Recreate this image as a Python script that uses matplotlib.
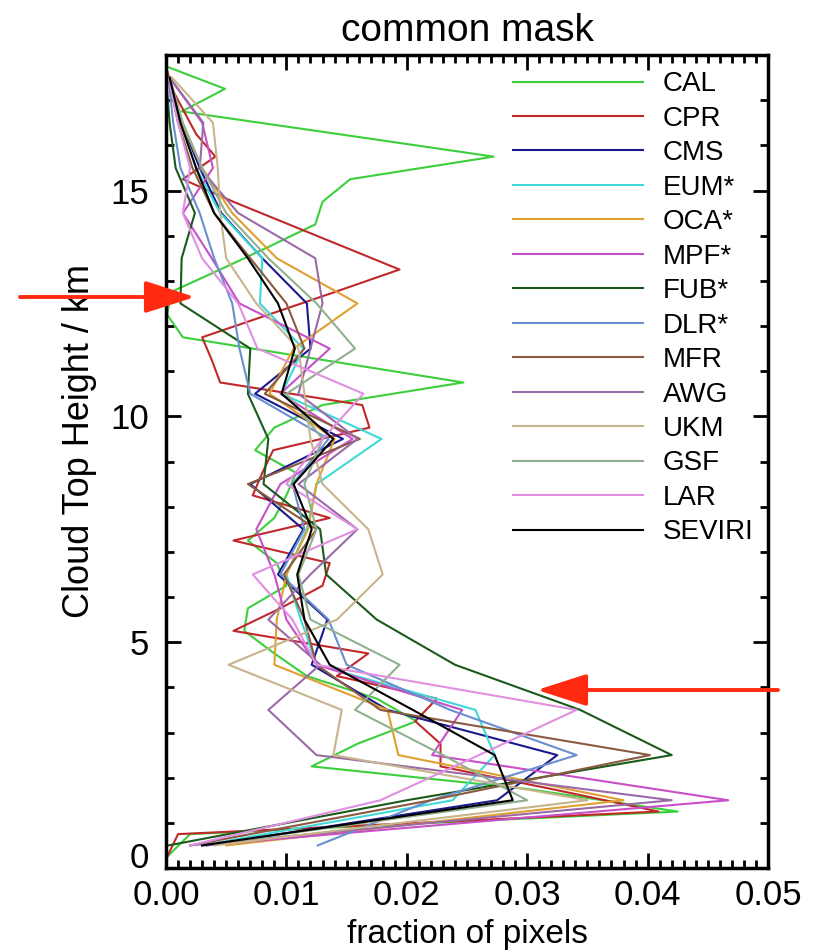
import matplotlib
matplotlib.use("Agg")
import matplotlib.pyplot as plt
from matplotlib.ticker import MultipleLocator, FormatStrFormatter

plt.rcParams['font.family'] = ['Liberation Sans', 'DejaVu Sans']

# bin centres (km)
h_fine = [0.25, 0.75, 1.25, 1.75, 2.25, 2.75, 3.25, 3.75, 4.25, 4.75, 5.25, 5.75,
          6.25, 6.75, 7.25, 7.75, 8.25, 8.75, 9.25, 9.75, 10.25, 10.75, 11.25, 11.75,
          12.25, 12.75, 13.25, 13.75, 14.25, 14.75, 15.25, 15.75, 16.25, 16.75, 17.25, 17.75]
h_coarse = [0.5, 1.5, 2.5, 3.5, 4.5, 5.5, 6.5, 7.5, 8.5, 9.5, 10.5, 11.5,
            12.5, 13.5, 14.5, 15.5, 16.5, 17.5]

CAL = [0.0001, 0.0020, 0.0425, 0.0300, 0.0121, 0.0159, 0.0208, 0.0175, 0.0117, 0.0090, 0.0065, 0.0068,
       0.0100, 0.0092, 0.0068, 0.0090, 0.0100, 0.0108, 0.0074, 0.0090, 0.0130, 0.0247, 0.0130, 0.0014,
       0.0001, 0.0004, 0.0045, 0.0085, 0.0124, 0.0130, 0.0153, 0.0272, 0.0143, 0.0013, 0.0049, 0.0000]
CPR = [0.0001, 0.0010, 0.0409, 0.0320, 0.0228, 0.0228, 0.0207, 0.0225, 0.0142, 0.0168, 0.0056, 0.0095,
       0.0130, 0.0136, 0.0056, 0.0136, 0.0072, 0.0080, 0.0089, 0.0169, 0.0163, 0.0045, 0.0038, 0.0030,
       0.0085, 0.0140, 0.0194, 0.0148, 0.0102, 0.0056, 0.0014, 0.0041, 0.0025, 0.0015, 0.0005, 0.0000]
CMS = [0.0034, 0.0275, 0.0325, 0.0184, 0.0121, 0.0134, 0.0093, 0.0114, 0.0070, 0.0147, 0.0074, 0.0120,
       0.0117, 0.0080, 0.0046, 0.0028, 0.0013, 0.0003]
EUM = [0.0030, 0.0238, 0.0273, 0.0257, 0.0125, 0.0112, 0.0100, 0.0117, 0.0125, 0.0179, 0.0096, 0.0114,
       0.0078, 0.0080, 0.0045, 0.0025, 0.0012, 0.0003]
OCA = [0.0050, 0.0380, 0.0193, 0.0184, 0.0090, 0.0092, 0.0100, 0.0118, 0.0125, 0.0140, 0.0086, 0.0106,
       0.0159, 0.0092, 0.0055, 0.0030, 0.0013, 0.0003]
MPF = [0.0030, 0.0467, 0.0221, 0.0246, 0.0125, 0.0100, 0.0090, 0.0075, 0.0095, 0.0155, 0.0095, 0.0136,
       0.0061, 0.0038, 0.0014, 0.0039, 0.0030, 0.0003]
FUB = [0.0002, 0.0200, 0.0420, 0.0344, 0.0240, 0.0175, 0.0133, 0.0128, 0.0081, 0.0085, 0.0068, 0.0070,
       0.0012, 0.0013, 0.0024, 0.0008, 0.0003, 0.0000]
DLR = [0.0126, 0.0220, 0.0341, 0.0236, 0.0150, 0.0135, 0.0095, 0.0115, 0.0105, 0.0135, 0.0070, 0.0061,
       0.0055, 0.0040, 0.0028, 0.0012, 0.0006, 0.0002]
MFR = [0.0020, 0.0220, 0.0402, 0.0178, 0.0125, 0.0115, 0.0098, 0.0125, 0.0068, 0.0161, 0.0082, 0.0115,
       0.0100, 0.0070, 0.0040, 0.0022, 0.0010, 0.0002]
AWG = [0.0020, 0.0420, 0.0125, 0.0085, 0.0128, 0.0085, 0.0120, 0.0159, 0.0110, 0.0159, 0.0110, 0.0120,
       0.0130, 0.0124, 0.0060, 0.0028, 0.0031, 0.0003]
UKM = [0.0040, 0.0350, 0.0139, 0.0146, 0.0052, 0.0142, 0.0180, 0.0168, 0.0130, 0.0120, 0.0115, 0.0110,
       0.0075, 0.0050, 0.0045, 0.0043, 0.0039, 0.0005]
GSF = [0.0030, 0.0300, 0.0230, 0.0157, 0.0194, 0.0120, 0.0110, 0.0125, 0.0115, 0.0130, 0.0100, 0.0157,
       0.0125, 0.0085, 0.0050, 0.0030, 0.0014, 0.0003]
LAR = [0.0020, 0.0178, 0.0260, 0.0341, 0.0125, 0.0105, 0.0072, 0.0159, 0.0100, 0.0130, 0.0164, 0.0076,
       0.0060, 0.0030, 0.0014, 0.0020, 0.0010, 0.0002]
SEVIRI = [0.0030, 0.0288, 0.0273, 0.0205, 0.0136, 0.0115, 0.0109, 0.0121, 0.0106, 0.0139, 0.0096, 0.0107,
          0.0093, 0.0068, 0.0040, 0.0025, 0.0012, 0.0003]

names = ['CAL', 'CPR', 'CMS', 'EUM*', 'OCA*', 'MPF*', 'FUB*', 'DLR*', 'MFR', 'AWG', 'UKM', 'GSF', 'LAR', 'SEVIRI']
series = [CAL, CPR, CMS, EUM, OCA, MPF, FUB, DLR, MFR, AWG, UKM, GSF, LAR, SEVIRI]
heights = [h_fine, h_fine] + [h_coarse] * 12
colors = ['#3ccf3c', '#c0282a', '#1a1a8c', '#40d8d8', '#e0a030', '#c850c8', '#1a5a1a',
          '#6a8fd0', '#8a5a40', '#9a6aa8', '#c8b48c', '#90b090', '#e090e0', '#000000']

fig = plt.figure(figsize=(8.13, 9.51), dpi=100)
ax = fig.add_axes([166/813, 1 - 868/951, (768-166)/813, (868-55)/951])

for name, vals, hs, c in zip(names, series, heights, colors):
    ax.plot(vals, hs, color=c, lw=1.5, label=name)

ax.set_xlim(0, 0.05)
ax.set_ylim(0, 18)
ax.xaxis.set_major_locator(MultipleLocator(0.01))
ax.xaxis.set_minor_locator(MultipleLocator(0.001))
ax.yaxis.set_major_locator(MultipleLocator(5))
ax.yaxis.set_minor_locator(MultipleLocator(1))
ax.xaxis.set_major_formatter(FormatStrFormatter('%.2f'))
ax.tick_params(which='both', direction='in', top=True, right=True, width=2)
ax.tick_params(which='major', length=11, labelsize=25)
ax.tick_params(axis='x', which='major', pad=8)
ax.tick_params(axis='y', which='major', pad=12)
ax.tick_params(which='minor', length=6)
for s in ax.spines.values():
    s.set_linewidth(2.5)

# raise the "0" label on the height axis, as in the original
fig.canvas.draw()
for t in ax.yaxis.get_major_ticks():
    if t.label1.get_text() == '0':
        t.label1.set_verticalalignment('baseline')

ax.set_xlabel('fraction of pixels', fontsize=24, labelpad=5)
ax.set_ylabel('Cloud Top Height / km', fontsize=26)
ax.yaxis.set_label_coords(-0.115, 0.525)
ax.set_title('common mask', fontsize=28, pad=10)

leg = ax.legend(loc='upper left', bbox_to_anchor=(0.576, 0.980), frameon=False,
                fontsize=20, handlelength=4.7, handletextpad=0.7, labelspacing=0.305,
                borderpad=0, borderaxespad=0)

# red annotation arrows
arrow_kw = dict(arrowstyle='-|>,head_length=1.4,head_width=0.45', color='#ff2a10', lw=2.8,
                mutation_scale=22, shrinkA=0, shrinkB=0)
ax.annotate('', xy=(195, 951-297), xycoords='figure pixels',
            xytext=(20, 951-297), textcoords='figure pixels', arrowprops=arrow_kw,
            annotation_clip=False)
ax.annotate('', xy=(537, 951-690), xycoords='figure pixels',
            xytext=(778, 951-690), textcoords='figure pixels', arrowprops=arrow_kw,
            annotation_clip=False)

fig.savefig('out.png', dpi=100)
